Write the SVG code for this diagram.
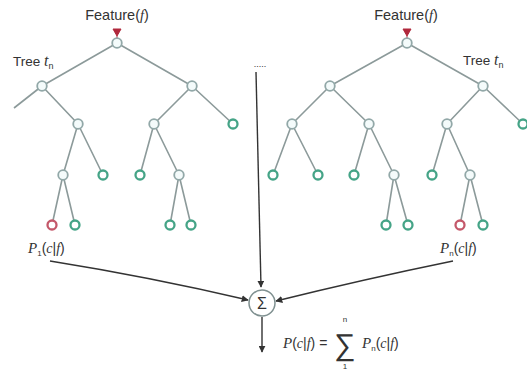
<svg xmlns="http://www.w3.org/2000/svg" width="527" height="381" viewBox="0 0 527 381">
<defs>
<marker id="arr" viewBox="0 0 10 10" refX="9" refY="5" markerWidth="7" markerHeight="7" orient="auto" markerUnits="userSpaceOnUse">
<path d="M0,0 L10,5 L0,10 Z" fill="#333"/>
</marker>
<style>
.e{stroke:#8c9a9a;stroke-width:1.6;fill:none}
.in{fill:#f4fbfb;stroke:#92a8a8;stroke-width:1.8}
.lf{fill:#fff;stroke:#45a487;stroke-width:2.3}
.rd{fill:#fff;stroke:#c4586a;stroke-width:2.3}
.c{stroke:#333;stroke-width:1.4;fill:none}
text{font-family:"Liberation Sans","DejaVu Sans",sans-serif;fill:#333}
.it{font-style:italic;font-family:"Liberation Serif",serif}
</style>
</defs>
<rect width="527" height="381" fill="#fff"/>
<g id="connectors">
<g id="tree-edges">
<path class="e" d="M117,43 L42,86 M117,43 L192,86 M42,86 L14,108 M42,86 L78,124 M192,86 L154,124 M192,86 L233,124 M78,124 L63,175 M78,124 L103,175 M154,124 L140,175 M154,124 L179,175 M63,175 L52,225 M63,175 L75,225 M179,175 L170,225 M179,175 L191,225"/>
<path class="e" d="M407,43 L330,86 M407,43 L483,86 M330,86 L292,124 M330,86 L369,124 M483,86 L447,124 M483,86 L523,124 M292,124 L273,175 M292,124 L318,175 M369,124 L354,175 M369,124 L394,175 M447,124 L432,175 M447,124 L470,175 M394,175 L386,225 M394,175 L408,225 M470,175 L460,225 M470,175 L483,225"/>
</g>
<path class="c" d="M256,72 L261,287" marker-end="url(#arr)"/>
<path class="c" d="M50,261 Q150,277 248,300" marker-end="url(#arr)"/>
<path class="c" d="M453,261 Q365,279 276,301" marker-end="url(#arr)"/>
<path class="c" d="M262,317 L262,352" marker-end="url(#arr)"/>
</g>
<g id="feature-left">
<text x="117" y="20" font-size="14.5" text-anchor="middle">Feature(<tspan class="it">f</tspan>)</text>
<path d="M113,29 L121,29 L117,36 Z M117,36 L117,39" fill="#b0283c" stroke="#b0283c" stroke-width="1"/>
</g>
<g id="feature-right">
<text x="406" y="20" font-size="14.5" text-anchor="middle">Feature(<tspan class="it">f</tspan>)</text>
<path d="M403,29 L411,29 L407,36 Z M407,36 L407,39" fill="#b0283c" stroke="#b0283c" stroke-width="1"/>
</g>
<g id="tree-label-left"><text x="13" y="66" font-size="13.5">Tree <tspan class="it" font-size="16">t</tspan><tspan font-size="9" dy="3">n</tspan></text></g>
<g id="tree-label-right"><text x="463" y="65" font-size="13.5">Tree <tspan class="it" font-size="16">t</tspan><tspan font-size="9" dy="3">n</tspan></text></g>
<g id="dots"><text x="260" y="67" font-size="9" text-anchor="middle" fill="#888">.....</text></g>
<g id="L0"><circle class="in" cx="117" cy="43" r="4.8"/></g>
<g id="L1a"><circle class="in" cx="42" cy="86" r="4.8"/></g>
<g id="L1b"><circle class="in" cx="192" cy="86" r="4.8"/></g>
<g id="L2a"><circle class="in" cx="78" cy="124" r="4.8"/></g>
<g id="L2b"><circle class="in" cx="154" cy="124" r="4.8"/></g>
<g id="L2c"><circle class="lf" cx="233" cy="124" r="4.5"/></g>
<g id="L3a"><circle class="in" cx="63" cy="175" r="4.8"/></g>
<g id="L3b"><circle class="lf" cx="103" cy="175" r="4.5"/></g>
<g id="L3c"><circle class="lf" cx="140" cy="175" r="4.5"/></g>
<g id="L3d"><circle class="in" cx="179" cy="175" r="4.8"/></g>
<g id="L4a"><circle class="rd" cx="52" cy="225" r="4.5"/></g>
<g id="L4b"><circle class="lf" cx="75" cy="225" r="4.5"/></g>
<g id="L4c"><circle class="lf" cx="170" cy="225" r="4.5"/></g>
<g id="L4d"><circle class="lf" cx="191" cy="225" r="4.5"/></g>
<g id="R0"><circle class="in" cx="407" cy="43" r="4.8"/></g>
<g id="R1a"><circle class="in" cx="330" cy="86" r="4.8"/></g>
<g id="R1b"><circle class="in" cx="483" cy="86" r="4.8"/></g>
<g id="R2a"><circle class="in" cx="292" cy="124" r="4.8"/></g>
<g id="R2b"><circle class="in" cx="369" cy="124" r="4.8"/></g>
<g id="R2c"><circle class="in" cx="447" cy="124" r="4.8"/></g>
<g id="R2d"><circle class="lf" cx="523" cy="124" r="4.5"/></g>
<g id="R3a"><circle class="lf" cx="273" cy="175" r="4.5"/></g>
<g id="R3b"><circle class="lf" cx="318" cy="175" r="4.5"/></g>
<g id="R3c"><circle class="lf" cx="354" cy="175" r="4.5"/></g>
<g id="R3d"><circle class="in" cx="394" cy="175" r="4.8"/></g>
<g id="R3e"><circle class="lf" cx="432" cy="175" r="4.5"/></g>
<g id="R3f"><circle class="in" cx="470" cy="175" r="4.8"/></g>
<g id="R4a"><circle class="lf" cx="386" cy="225" r="4.5"/></g>
<g id="R4b"><circle class="lf" cx="408" cy="225" r="4.5"/></g>
<g id="R4c"><circle class="rd" cx="460" cy="225" r="4.5"/></g>
<g id="R4d"><circle class="lf" cx="483" cy="225" r="4.5"/></g>
<g id="p1-label"><text x="28" y="253" font-size="14"><tspan class="it" font-size="15">P</tspan><tspan font-size="8" dy="3">1</tspan><tspan dy="-3">(</tspan><tspan class="it">c</tspan>|<tspan class="it">f</tspan>)</text></g>
<g id="pn-label"><text x="440" y="253" font-size="14"><tspan class="it" font-size="15">P</tspan><tspan font-size="8" dy="3">n</tspan><tspan dy="-3">(</tspan><tspan class="it">c</tspan>|<tspan class="it">f</tspan>)</text></g>
<g id="sum">
<circle cx="262" cy="303" r="13" fill="#fff" stroke="#7f9090" stroke-width="1.5"/>
<text x="262" y="309" font-size="16" text-anchor="middle">Σ</text>
</g>
<g id="formula">
<text x="283" y="348" font-size="14"><tspan class="it" font-size="15">P</tspan>(<tspan class="it">c</tspan>|<tspan class="it">f</tspan>) =</text>
<text x="345" y="355" font-size="30" text-anchor="middle">∑</text>
<text x="345" y="322" font-size="8" text-anchor="middle">n</text>
<text x="345" y="369" font-size="8" text-anchor="middle">1</text>
<text x="362" y="348" font-size="14"><tspan class="it" font-size="15">P</tspan><tspan font-size="8" dy="3">n</tspan><tspan dy="-3">(</tspan><tspan class="it">c</tspan>|<tspan class="it">f</tspan>)</text>
</g>
</svg>
